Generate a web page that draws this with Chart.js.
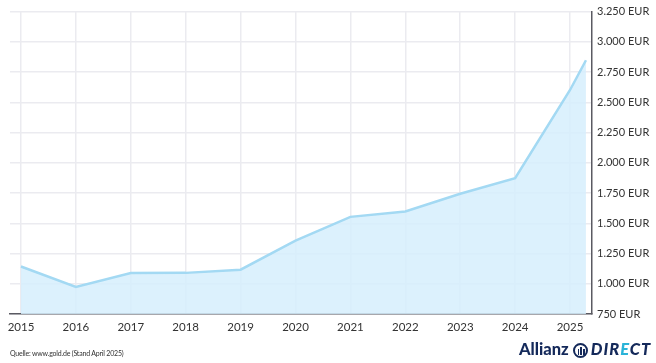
<!DOCTYPE html>
<html>
<head>
<meta charset="utf-8">
<script src="https://cdn.jsdelivr.net/npm/chart.js@4/dist/chart.umd.min.js"></script>
<style>
  html, body { margin: 0; padding: 0; background: #ffffff; }
  #wrap { position: relative; width: 656px; height: 363px; overflow: hidden; }
  #c { position: absolute; left: 0; top: 0; }
  #src { position: absolute; left: 10px; top: 349px; font-family: Lato, sans-serif; font-size: 7px; color: #333; letter-spacing: -0.2px; }
  #logo { position: absolute; left: 519px; top: 339px; font-family: Lato, "DejaVu Sans", sans-serif; font-weight: 900; font-size: 16.5px; color: #14295a; white-space: nowrap; }
  #logo .ring { display: inline-block; width: 15px; height: 15px; border: 2px solid #14295a; border-radius: 50%; vertical-align: -3px; margin: 0 3px 0 4px; box-sizing: border-box; position: relative; }
  #logo .ring i { position: absolute; top: 2px; width: 1.6px; background: #14295a; }
  #logo .d { font-style: italic; letter-spacing: 1px; }
  #logo .e { color: #2ab3d8; }
</style>
</head>
<body>
<div id="wrap">
  <canvas id="c" width="656" height="363"></canvas>
  <div id="src">Quelle: www.gold.de (Stand April 2025)</div>
  <div id="logo">Allianz<span class="ring"><i style="left:3px;height:6px;top:3.5px"></i><i style="left:5.7px;height:8px"></i><i style="left:8.4px;height:6px;top:3.5px"></i></span><span class="d">DIR<span class="e">E</span>CT</span></div>
</div>
<script>
const yearTicks = [2015, 2016, 2017, 2018, 2019, 2020, 2021, 2022, 2023, 2024, 2025];
const pointYears = [2015, 2016, 2017, 2018, 2019, 2020, 2021, 2022, 2023, 2024, 2025, 2025.29];
const goldPrices = [1143, 974, 1088, 1090, 1116, 1357, 1553, 1597, 1744, 1873, 2602, 2848];
const yTicks = [750, 1000, 1250, 1500, 1750, 2000, 2250, 2500, 2750, 3000, 3250];

function fmtEUR(v) {
  const s = String(Math.round(v));
  return s.replace(/\B(?=(\d{3})+(?!\d))/g, '.') + ' EUR';
}

const points = pointYears.map((x, i) => ({ x: x, y: goldPrices[i] }));

new Chart(document.getElementById('c'), {
  type: 'line',
  data: {
    datasets: [{
      data: points,
      borderColor: '#a3d9f3',
      borderWidth: 2.5,
      backgroundColor: 'rgba(214,239,253,0.85)',
      fill: 'origin',
      pointRadius: 0,
      tension: 0
    }]
  },
  options: {
    responsive: false,
    animation: false,
    devicePixelRatio: 1,
    layout: { padding: { left: 10, right: 0, top: 0, bottom: 29 } },
    plugins: { legend: { display: false }, tooltip: { enabled: false } },
    scales: {
      x: {
        type: 'linear',
        min: 2014.8,
        max: 2025.4,
        afterBuildTicks: (s) => { s.ticks = yearTicks.map(v => ({ value: v })); },
        afterFit: (s) => { s.height = 20; },
        grid: { color: '#ebebf0', lineWidth: 1.5, drawTicks: false },
        border: { display: true, color: '#5a5a62', width: 1.5 },
        ticks: { padding: 6, color: '#333', font: { family: 'Lato', size: 11.5 }, callback: (v) => String(v), maxRotation: 0, autoSkip: false }
      },
      y: {
        position: 'right',
        min: 750,
        max: 3250,
        afterBuildTicks: (s) => { s.ticks = yTicks.map(v => ({ value: v })); },
        afterFit: (s) => { s.width = 64; },
        grid: { color: '#ebebf0', lineWidth: 1.5, drawTicks: false },
        border: { display: true, color: '#5a5a62', width: 1.5 },
        ticks: { padding: 5, color: '#333', font: { family: 'Lato', size: 11 }, callback: (v) => fmtEUR(v) }
      }
    }
  }
});
</script>
</body>
</html>
